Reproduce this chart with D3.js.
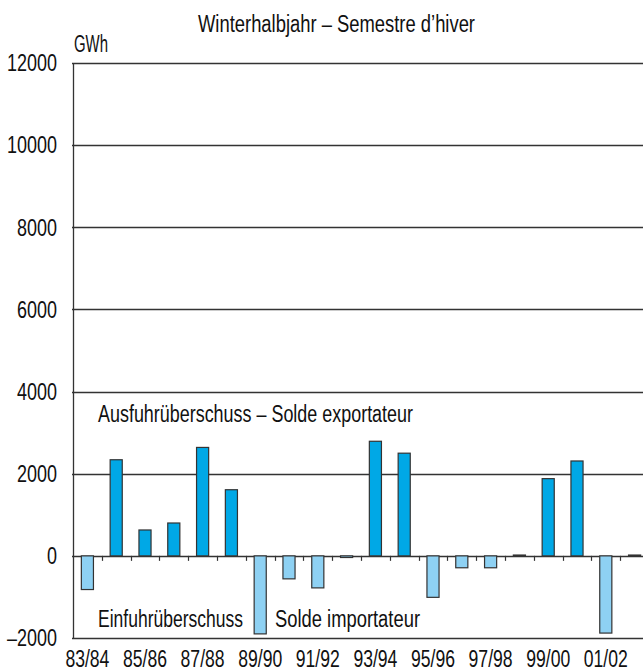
<!DOCTYPE html>
<html>
<head>
<meta charset="utf-8">
<script src="https://cdn.jsdelivr.net/npm/d3@7"></script>
<style>
  body { margin: 0; background: #fff; }
  svg text { font-family: "Liberation Sans", Arial, sans-serif; fill: #111; }
</style>
</head>
<body>
<div id="chart"></div>
<script>
const width = 643;
const height = 672;
const margin = { left: 73, right: -6, top: 63, bottom: 34 };
const fontSize = 23;

const seasons = [
  "83/84", "84/85", "85/86", "86/87", "87/88", "88/89", "89/90", "90/91", "91/92", "92/93",
  "93/94", "94/95", "95/96", "96/97", "97/98", "98/99", "99/00", "00/01", "01/02", "02/03",
];
const balance = [
  -820, 2340, 630, 800, 2640, 1610, -1900, -560, -780, -40,
  2790, 2500, -1010, -290, -290, 20, 1880, 2310, -1880, 20,
];
const yTicks = [-2000, 0, 2000, 4000, 6000, 8000, 10000, 12000];
const xLabels = ["83/84", "85/86", "87/88", "89/90", "91/92", "93/94", "95/96", "97/98", "99/00", "01/02"];

const svg = d3
  .select("#chart")
  .append("svg")
  .attr("width", width)
  .attr("height", height);

// the original font is a condensed one, so squeeze the text to the measured widths
function squeeze(sel, target) {
  sel.each(function () {
    const w = this.getComputedTextLength();
    d3.select(this)
      .attr("textLength", target(w, this))
      .attr("lengthAdjust", "spacingAndGlyphs");
  });
}

const x = d3
  .scaleBand()
  .domain(seasons)
  .range([margin.left, width - margin.right])
  .paddingInner(0.58)
  .paddingOuter(0.29);

const y = d3
  .scaleLinear()
  .domain([-2000, 12000])
  .range([height - margin.bottom, margin.top]);

// grid lines
svg
  .append("g")
  .selectAll("line")
  .data(yTicks)
  .enter()
  .append("line")
  .attr("x1", margin.left - 1)
  .attr("x2", width - margin.right)
  .attr("y1", (d) => Math.round(y(d)) + 0.5)
  .attr("y2", (d) => Math.round(y(d)) + 0.5)
  .attr("stroke", "#333")
  .attr("stroke-width", 1.3);

// left axis line
svg
  .append("line")
  .attr("x1", margin.left + 0.5)
  .attr("x2", margin.left + 0.5)
  .attr("y1", Math.round(y(12000)))
  .attr("y2", Math.round(y(-2000)) + 1)
  .attr("stroke", "#333")
  .attr("stroke-width", 1.3);

// y labels
const yText = svg
  .append("g")
  .selectAll("text")
  .data(yTicks)
  .enter()
  .append("text")
  .attr("x", 57)
  .attr("y", (d) => y(d) + 8.3)
  .attr("text-anchor", "end")
  .attr("font-size", fontSize)
  .text((d) => (d < 0 ? "\u2013" + Math.abs(d) : d));
const digitW = yText.filter((d) => d === 2000).node().getComputedTextLength();
squeeze(yText, (w) => w * 40 / digitW);

// small ticks between bars, on the zero line
const step = x.step();
svg
  .append("g")
  .selectAll("line")
  .data(seasons.slice(1))
  .enter()
  .append("line")
  .attr("x1", (d) => Math.round(x(d) - step * x.paddingInner() / 2) + 0.5)
  .attr("x2", (d) => Math.round(x(d) - step * x.paddingInner() / 2) + 0.5)
  .attr("y1", y(0))
  .attr("y2", y(0) + 5)
  .attr("stroke", "#333")
  .attr("stroke-width", 1.2);

// bars
svg
  .append("g")
  .selectAll("rect")
  .data(seasons)
  .enter()
  .append("rect")
  .attr("x", (d) => x(d))
  .attr("width", x.bandwidth())
  .attr("y", (d, i) => y(Math.max(0, balance[i])))
  .attr("height", (d, i) => Math.abs(y(balance[i]) - y(0)))
  .attr("fill", (d, i) => (balance[i] >= 0 ? "#00a8e6" : "#8ed1f3"))
  .attr("stroke", "#333")
  .attr("stroke-width", 1.2);

// x labels
const xText = svg
  .append("g")
  .selectAll("text")
  .data(xLabels)
  .enter()
  .append("text")
  .attr("x", (d) => x(d) + x.bandwidth() / 2)
  .attr("y", 667)
  .attr("text-anchor", "middle")
  .attr("font-size", fontSize)
  .text((d) => d);
squeeze(xText, () => 44);

// titles and annotations
const labels = [
  { text: "Winterhalbjahr \u2013 Semestre d\u2019hiver", x: 198, y: 32, w: 277 },
  { text: "GWh", x: 74, y: 52, w: 34 },
  { text: "Ausfuhr\u00fcberschuss \u2013 Solde exportateur", x: 98, y: 422, w: 315 },
  { text: "Einfuhr\u00fcberschuss", x: 98, y: 627, w: 145 },
  { text: "Solde importateur", x: 275, y: 627, w: 145 },
];
const lText = svg
  .append("g")
  .selectAll("text")
  .data(labels)
  .enter()
  .append("text")
  .attr("x", (d) => d.x)
  .attr("y", (d) => d.y)
  .attr("font-size", fontSize)
  .text((d) => d.text);
squeeze(lText, (w, el) => d3.select(el).datum().w);
</script>
</body>
</html>
